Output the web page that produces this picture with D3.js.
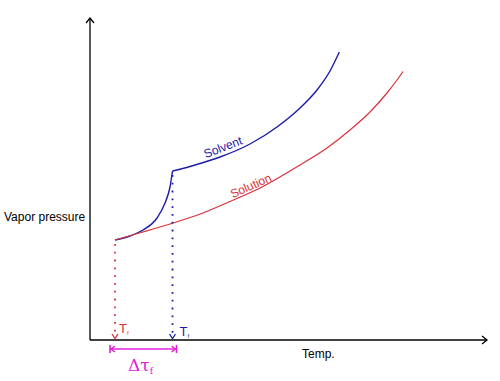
<!DOCTYPE html>
<html><head><meta charset="utf-8">
<script src="https://cdn.jsdelivr.net/npm/d3@7"></script>
<style>body{margin:0;background:#fff}svg{display:block}</style>
</head><body>
<script>
// Data (arbitrary temperature / pressure units)
const iceCurve = [[25,100],[40,104],[53,110],[67,122],[75,137],[80,153],[82.5,169]];
const solventCurve = [[82.5,169],[100,173.5],[110,176.5],[130,183],[160,196],[187,213],[210,232],[227,250],[240,269],[249.3,288]];
const solutionCurve = [[25,100],[53,108],[83,117],[113,127],[140,138.5],[170,152],[210,175],[237,192],[260,210],[280,228],[297,247],[307,260],[313,268.5]];
const freezeSolution = 25;   // Tf of solution
const freezeSolvent = 82.5;  // Tf of solvent
const pSolution = 100, pSolvent = 169;
const labels = {y:"Vapor pressure", x:"Temp.", solvent:"Solvent", solution:"Solution"};

const W=500,H=381;
const svg=d3.select("body").append("svg").attr("width",W).attr("height",H);
const x=d3.scaleLinear().domain([0,400]).range([90,490]);
const y=d3.scaleLinear().domain([0,320]).range([340,20]);
const blue="#1c1caa", red="#d8323a", mag="#e020d8";

// axes
svg.append("line").attr("x1",x(0)).attr("y1",y(0)).attr("x2",x(0)).attr("y2",19).attr("stroke","#000").attr("stroke-width",1.3);
svg.append("line").attr("x1",x(0)).attr("y1",y(0)).attr("x2",487).attr("y2",y(0)).attr("stroke","#000").attr("stroke-width",1.3);
svg.append("path").attr("d",`M86,23L90,18L94,23`).attr("fill","none").attr("stroke","#000").attr("stroke-width",1.3);
svg.append("path").attr("d",`M482,336L487,340L482,344`).attr("fill","none").attr("stroke","#000").attr("stroke-width",1.3);

const line=d3.line().x(d=>x(d[0])).y(d=>y(d[1])).curve(d3.curveMonotoneX);
svg.append("path").attr("d",line(iceCurve)).attr("fill","none").attr("stroke",blue).attr("stroke-width",1.4);
svg.append("path").attr("d",line(solventCurve)).attr("fill","none").attr("stroke",blue).attr("stroke-width",1.4);
svg.append("path").attr("d",line(solutionCurve)).attr("fill","none").attr("stroke",red).attr("stroke-width",1.2);

// dotted drop lines
function drop(t,p,col){
  svg.append("line").attr("x1",x(t)).attr("x2",x(t)).attr("y1",y(p)+4).attr("y2",y(0)-3)
    .attr("stroke",col).attr("stroke-width",1.8).attr("stroke-dasharray","1.8,6");
  svg.append("path").attr("d",`M${x(t)-3},${y(0)-6}L${x(t)},${y(0)-1.5}L${x(t)+3},${y(0)-6}`)
    .attr("fill","none").attr("stroke",col).attr("stroke-width",1.3);
}
drop(freezeSolution,pSolution,red);
drop(freezeSolvent,pSolvent,blue);

// T labels
function tlab(xx,yy,col){
  const t=svg.append("text").attr("x",xx).attr("y",yy).attr("fill",col)
    .attr("font-family","Liberation Sans, Arial, sans-serif").attr("font-size",13);
  t.append("tspan").text("T");
  t.append("tspan").attr("dy",2).attr("font-size",6).text("f");
}
tlab(x(freezeSolution)+4,333,red);
tlab(x(freezeSolvent)+7,336,blue);

// delta arrow
const ay=349, ax1=x(freezeSolution)-5, ax2=x(freezeSolvent)+4;
svg.append("line").attr("x1",ax1).attr("x2",ax2).attr("y1",ay).attr("y2",ay).attr("stroke",mag).attr("stroke-width",1.6);
[ax1,ax2].forEach(v=>svg.append("line").attr("x1",v).attr("x2",v).attr("y1",ay-4).attr("y2",ay+4).attr("stroke",mag).attr("stroke-width",1.6));
svg.append("path").attr("d",`M${ax1+5},${ay-3}L${ax1+1},${ay}L${ax1+5},${ay+3}`).attr("fill","none").attr("stroke",mag).attr("stroke-width",1.4);
svg.append("path").attr("d",`M${ax2-5},${ay-3}L${ax2-1},${ay}L${ax2-5},${ay+3}`).attr("fill","none").attr("stroke",mag).attr("stroke-width",1.4);
const dt=svg.append("text").attr("x",128).attr("y",371).attr("fill",mag)
  .attr("font-family","DejaVu Serif, serif").attr("font-size",17);
dt.append("tspan").text("Δτ");
dt.append("tspan").attr("dy",3).attr("font-size",9).text("f");

// axis labels
const f="Liberation Sans, Arial, sans-serif";
svg.append("text").attr("x",4).attr("y",221).attr("font-family",f).attr("font-size",12).text(labels.y);
svg.append("text").attr("x",302).attr("y",358).attr("font-family",f).attr("font-size",12).text(labels.x);

// curve labels
svg.append("text").attr("transform",`translate(224.5,151) rotate(-21)`).attr("text-anchor","middle")
  .attr("font-family",f).attr("font-size",12).attr("fill",blue).text(labels.solvent);
svg.append("text").attr("transform",`translate(252.5,189.5) rotate(-24)`).attr("text-anchor","middle")
  .attr("font-family",f).attr("font-size",12).attr("fill",red).text(labels.solution);
</script>
</body></html>
